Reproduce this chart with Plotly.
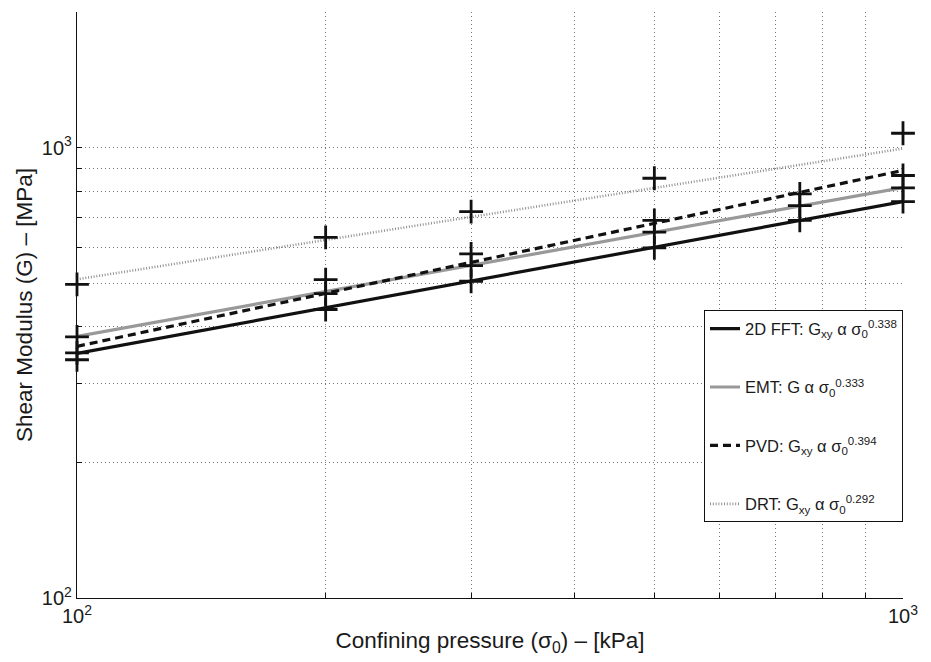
import plotly.graph_objects as go

# Data
pressure = [100, 200, 300, 500, 750, 1000]
fft_pts = [350, 437, 505, 599, 689, 759]
emt_pts = [380, 474, 547, 649, 743, 814]
pvd_pts = [338, 509, 581, 689, 789, 867]
drt_pressure = [100, 200, 300, 500, 1000]
drt_pts = [497, 632, 721, 855, 1076]

fit_pressure = [100, 1000]
fft_fit = [349, 759]
emt_fit = [381, 815]
pvd_fit = [362, 890]
drt_fit = [510, 995]

names = [
    "2D FFT: G<sub>xy</sub> α σ<sub>0</sub><sup>0.338</sup>",
    "EMT: G α σ<sub>0</sub><sup>0.333</sup>",
    "PVD: G<sub>xy</sub> α σ<sub>0</sub><sup>0.394</sup>",
    "DRT: G<sub>xy</sub> α σ<sub>0</sub><sup>0.292</sup>",
]

grid_vals = [100, 200, 300, 400, 500, 600, 700, 800, 900, 1000, 2000]
tick_text = ["10<sup>2</sup>", "", "", "", "", "", "", "", "", "10<sup>3</sup>", ""]

FONT = "Liberation Sans, Arial, sans-serif"

fig = go.Figure()

line_styles = [
    (fft_fit, dict(color="#111111", width=3.2, dash="solid")),
    (emt_fit, dict(color="#999999", width=3.2, dash="solid")),
    (pvd_fit, dict(color="#111111", width=3.2, dash="8px,5px")),
    (drt_fit, dict(color="#909090", width=2.6, dash="1px,1.8px")),
]
for i, (vals, style) in enumerate(line_styles):
    fig.add_trace(go.Scatter(
        x=fit_pressure, y=vals, mode="lines", name=names[i],
        line=style, legendgroup=f"g{i}",
    ))

for xs, ys in [(pressure, fft_pts), (pressure, emt_pts), (pressure, pvd_pts), (drt_pressure, drt_pts)]:
    fig.add_trace(go.Scatter(
        x=xs, y=ys, mode="markers", showlegend=False, cliponaxis=False,
        marker=dict(symbol="cross-thin", size=17, line=dict(color="#111111", width=2.8)),
    ))

fig.update_layout(
    width=923, height=654,
    margin=dict(l=69, r=28, t=4, b=64),
    paper_bgcolor="white", plot_bgcolor="white",
    font=dict(family=FONT, size=16, color="#1a1a1a"),
    showlegend=True,
    legend=dict(
        x=1.0, xanchor="right", y=0.31, yanchor="middle",
        bgcolor="white", bordercolor="#111111", borderwidth=1,
        font=dict(family=FONT, size=16.5, color="#1a1a1a"),
        tracegroupgap=34,
    ),
)

fig.update_xaxes(
    type="log", range=[2, 3],
    tickmode="array", tickvals=grid_vals[:10], ticktext=tick_text[:10],
    showgrid=True, gridcolor="#777777", griddash="1px,3px", gridwidth=1,
    showline=True, linecolor="#111111", linewidth=1.3,
    ticks="inside", ticklen=5, tickcolor="#111111",
    tickfont=dict(family=FONT, size=20, color="#1a1a1a"),
    title=dict(text="Confining pressure (σ<sub>0</sub>) – [kPa]", font=dict(family=FONT, size=22.5), standoff=6),
    zeroline=False, mirror=False,
)
fig.update_yaxes(
    type="log", range=[2, 3.30103],
    tickmode="array", tickvals=grid_vals, ticktext=tick_text,
    showgrid=True, gridcolor="#777777", griddash="1px,3px", gridwidth=1,
    showline=True, linecolor="#111111", linewidth=1.3,
    ticks="inside", ticklen=5, tickcolor="#111111",
    tickfont=dict(family=FONT, size=20, color="#1a1a1a"),
    title=dict(text="Shear Modulus (G) – [MPa]", font=dict(family=FONT, size=22.5), standoff=2),
    zeroline=False, mirror=False,
)

fig.write_html("out.html")
